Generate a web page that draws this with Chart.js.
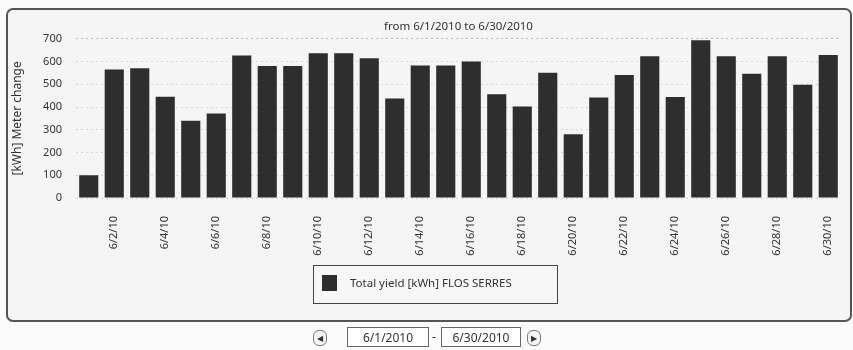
<!DOCTYPE html>
<html>
<head>
<meta charset="utf-8">
<script src="https://cdn.jsdelivr.net/npm/chart.js@4/dist/chart.umd.min.js"></script>
<style>
  html, body { margin: 0; padding: 0; background: #fbfbfb; }
  #wrap { position: relative; width: 853px; height: 350px; overflow: hidden; font-family: "Noto Sans", sans-serif; }
  #frame { position: absolute; left: 6px; top: 8px; width: 846px; height: 314px; border: 2px solid #555; border-radius: 7px; background: #f5f5f5; box-sizing: border-box; }
  #c { position: absolute; left: 0; top: 0; }
  .ctl { position: absolute; font-size: 12px; color: #333; }
  .btn { top: 330px; width: 12px; height: 14px; border: 1px solid #777; border-radius: 6px; font-size: 8px; line-height: 14px; text-align: center; background: #f5f5f5; }
  .box { top: 327px; height: 20px; border: 1px solid #666; line-height: 20px; text-align: center; background: #fff; box-sizing: border-box; }
</style>
</head>
<body>
<div id="wrap">
  <div id="frame"></div>
  <canvas id="c" width="853" height="350"></canvas>
  <div class="ctl btn" style="left:313px;">&#9664;</div>
  <div class="ctl box" style="left:347px; width:82px;">6/1/2010</div>
  <div class="ctl" style="left:432px; top:328px;">-</div>
  <div class="ctl box" style="left:441px; width:80px;">6/30/2010</div>
  <div class="ctl btn" style="left:527px;">&#9654;</div>
</div>
<script>
const titleText = 'from 6/1/2010 to 6/30/2010';
const yAxisTitle = '[kWh] Meter change';
const seriesName = 'Total yield [kWh] FLOS SERRES';
const categories = ['6/1/10','6/2/10','6/3/10','6/4/10','6/5/10','6/6/10','6/7/10','6/8/10','6/9/10','6/10/10',
  '6/11/10','6/12/10','6/13/10','6/14/10','6/15/10','6/16/10','6/17/10','6/18/10','6/19/10','6/20/10',
  '6/21/10','6/22/10','6/23/10','6/24/10','6/25/10','6/26/10','6/27/10','6/28/10','6/29/10','6/30/10'];
const yieldValues = [100, 565, 570, 445, 340, 372, 627, 580, 580, 637,
  637, 614, 437, 583, 583, 600, 456, 402, 551, 280,
  442, 541, 623, 444, 694, 623, 546, 623, 498, 629];
const yTicks = [0, 100, 200, 300, 400, 500, 600, 700];

const FONT = '"Noto Sans", sans-serif';
const BAR = '#2e2e2e';

const legendBoxPlugin = {
  id: 'legendBox',
  afterDraw(chart) {
    const ctx = chart.ctx;
    const ds = chart.data.datasets[0];
    ctx.save();
    ctx.strokeStyle = '#444';
    ctx.lineWidth = 1;
    ctx.fillStyle = '#f7f7f7';
    ctx.fillRect(313.5, 265.5, 244, 38);
    ctx.strokeRect(313.5, 265.5, 244, 38);
    ctx.fillStyle = ds.backgroundColor;
    ctx.fillRect(322, 275, 15, 16);
    ctx.fillStyle = '#333';
    ctx.font = '11.5px ' + FONT;
    ctx.textBaseline = 'middle';
    ctx.fillText(ds.label, 350, 284);
    ctx.restore();
  }
};

new Chart(document.getElementById('c'), {
  type: 'bar',
  data: {
    labels: categories,
    datasets: [{
      label: seriesName,
      data: yieldValues,
      backgroundColor: BAR,
      borderWidth: 0,
      barPercentage: 0.75,
      categoryPercentage: 1.0
    }]
  },
  options: {
    responsive: false,
    animation: false,
    devicePixelRatio: 1,
    layout: { padding: { left: 10, right: 12, top: 0, bottom: 70 } },
    plugins: {
      legend: { display: false },
      tooltip: { enabled: false },
      title: {
        display: true,
        text: titleText,
        fullSize: false,
        color: '#333',
        font: { family: FONT, size: 11.5, weight: 'normal' },
        padding: { top: 20, bottom: 5 }
      }
    },
    scales: {
      x: {
        grid: { display: false },
        border: { display: false },
        ticks: {
          autoSkip: false,
          maxRotation: 90,
          minRotation: 90,
          padding: 10,
          color: '#333',
          font: { family: FONT, size: 11 },
          callback: function(v, i) { return i % 2 === 1 ? this.getLabelForValue(v) : ''; }
        },
        afterFit(scale) { scale.height = 82; }
      },
      y: {
        min: 0,
        max: 700,
        afterBuildTicks(scale) { scale.ticks = yTicks.map(v => ({ value: v })); },
        grid: {
          color: (c) => c.tick && c.tick.value === 700 ? '#bdbdbd' : '#d6d6d6',
          lineWidth: 1,
          drawTicks: false
        },
        border: { display: false, dash: [2, 3] },
        ticks: {
          padding: 14,
          color: '#333',
          font: { family: FONT, size: 11 }
        },
        title: {
          display: true,
          text: yAxisTitle,
          color: '#333',
          font: { family: FONT, size: 12 },
          padding: { top: 0, bottom: 2 }
        },
        afterFit(scale) { scale.width = 66; }
      }
    }
  },
  plugins: [legendBoxPlugin]
});
</script>
</body>
</html>
